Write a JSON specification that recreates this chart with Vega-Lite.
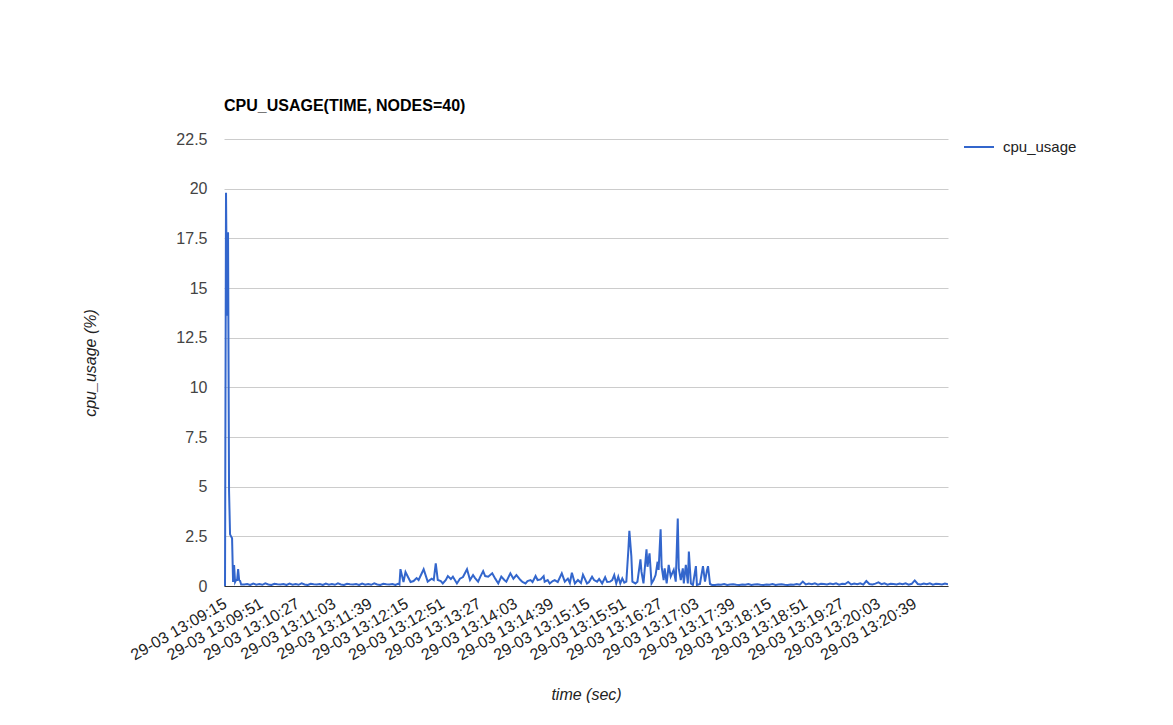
{
"$schema": "https://vega.github.io/schema/vega-lite/v6.json",
"width": 724,
"height": 447,
"autosize": {"type": "none"},
"padding": {"left": 224, "top": 139, "right": 225, "bottom": 139},
"background": "white",
"config": {"view": {"stroke": null}, "font": "Liberation Sans"},
"title": {"text": "CPU_USAGE(TIME, NODES=40)", "anchor": "start", "frame": "group", "font": "Liberation Sans", "fontSize": 16, "fontWeight": "bold", "color": "#000000", "baseline": "alphabetic", "offset": 4},
"data": {
"format": {"parse": {"time": "date:'%d-%m %H:%M:%S'"}},
"values": [
{"time":"29-03 13:09:15","cpu_usage":0},
{"time":"29-03 13:09:16","cpu_usage":19.8},
{"time":"29-03 13:09:17","cpu_usage":13.6},
{"time":"29-03 13:09:18","cpu_usage":17.8},
{"time":"29-03 13:09:19","cpu_usage":4.8},
{"time":"29-03 13:09:20","cpu_usage":2.6},
{"time":"29-03 13:09:21","cpu_usage":2.5},
{"time":"29-03 13:09:22","cpu_usage":2.4},
{"time":"29-03 13:09:23","cpu_usage":0.2},
{"time":"29-03 13:09:24","cpu_usage":1.05},
{"time":"29-03 13:09:25","cpu_usage":0.2},
{"time":"29-03 13:09:26","cpu_usage":0.3},
{"time":"29-03 13:09:27","cpu_usage":0.3},
{"time":"29-03 13:09:28","cpu_usage":0.85},
{"time":"29-03 13:09:29","cpu_usage":0.3},
{"time":"29-03 13:09:30","cpu_usage":0.25},
{"time":"29-03 13:09:31","cpu_usage":0.08},
{"time":"29-03 13:09:34","cpu_usage":0.08},
{"time":"29-03 13:09:37","cpu_usage":0.1},
{"time":"29-03 13:09:40","cpu_usage":0.05},
{"time":"29-03 13:09:43","cpu_usage":0.12},
{"time":"29-03 13:09:46","cpu_usage":0.07},
{"time":"29-03 13:09:49","cpu_usage":0.1},
{"time":"29-03 13:09:52","cpu_usage":0.06},
{"time":"29-03 13:09:55","cpu_usage":0.13},
{"time":"29-03 13:09:58","cpu_usage":0.08},
{"time":"29-03 13:10:01","cpu_usage":0.05},
{"time":"29-03 13:10:04","cpu_usage":0.11},
{"time":"29-03 13:10:07","cpu_usage":0.09},
{"time":"29-03 13:10:10","cpu_usage":0.08},
{"time":"29-03 13:10:13","cpu_usage":0.1},
{"time":"29-03 13:10:16","cpu_usage":0.05},
{"time":"29-03 13:10:19","cpu_usage":0.12},
{"time":"29-03 13:10:22","cpu_usage":0.07},
{"time":"29-03 13:10:25","cpu_usage":0.1},
{"time":"29-03 13:10:28","cpu_usage":0.06},
{"time":"29-03 13:10:31","cpu_usage":0.13},
{"time":"29-03 13:10:34","cpu_usage":0.08},
{"time":"29-03 13:10:37","cpu_usage":0.05},
{"time":"29-03 13:10:40","cpu_usage":0.11},
{"time":"29-03 13:10:43","cpu_usage":0.09},
{"time":"29-03 13:10:46","cpu_usage":0.08},
{"time":"29-03 13:10:49","cpu_usage":0.1},
{"time":"29-03 13:10:52","cpu_usage":0.05},
{"time":"29-03 13:10:55","cpu_usage":0.12},
{"time":"29-03 13:10:58","cpu_usage":0.07},
{"time":"29-03 13:11:01","cpu_usage":0.1},
{"time":"29-03 13:11:04","cpu_usage":0.06},
{"time":"29-03 13:11:07","cpu_usage":0.13},
{"time":"29-03 13:11:10","cpu_usage":0.08},
{"time":"29-03 13:11:13","cpu_usage":0.05},
{"time":"29-03 13:11:16","cpu_usage":0.11},
{"time":"29-03 13:11:19","cpu_usage":0.09},
{"time":"29-03 13:11:22","cpu_usage":0.08},
{"time":"29-03 13:11:25","cpu_usage":0.1},
{"time":"29-03 13:11:28","cpu_usage":0.05},
{"time":"29-03 13:11:31","cpu_usage":0.12},
{"time":"29-03 13:11:34","cpu_usage":0.07},
{"time":"29-03 13:11:37","cpu_usage":0.1},
{"time":"29-03 13:11:40","cpu_usage":0.06},
{"time":"29-03 13:11:43","cpu_usage":0.13},
{"time":"29-03 13:11:46","cpu_usage":0.08},
{"time":"29-03 13:11:49","cpu_usage":0.05},
{"time":"29-03 13:11:52","cpu_usage":0.11},
{"time":"29-03 13:11:55","cpu_usage":0.09},
{"time":"29-03 13:11:58","cpu_usage":0.08},
{"time":"29-03 13:12:01","cpu_usage":0.1},
{"time":"29-03 13:12:04","cpu_usage":0.05},
{"time":"29-03 13:12:07","cpu_usage":0.12},
{"time":"29-03 13:12:08","cpu_usage":0.08},
{"time":"29-03 13:12:09","cpu_usage":0.85},
{"time":"29-03 13:12:12","cpu_usage":0.2},
{"time":"29-03 13:12:14","cpu_usage":0.7},
{"time":"29-03 13:12:17","cpu_usage":0.4},
{"time":"29-03 13:12:19","cpu_usage":0.2},
{"time":"29-03 13:12:22","cpu_usage":0.25},
{"time":"29-03 13:12:25","cpu_usage":0.4},
{"time":"29-03 13:12:27","cpu_usage":0.3},
{"time":"29-03 13:12:32","cpu_usage":0.84},
{"time":"29-03 13:12:36","cpu_usage":0.22},
{"time":"29-03 13:12:40","cpu_usage":0.37},
{"time":"29-03 13:12:42","cpu_usage":0.3},
{"time":"29-03 13:12:44","cpu_usage":1.14},
{"time":"29-03 13:12:46","cpu_usage":0.3},
{"time":"29-03 13:12:49","cpu_usage":0.25},
{"time":"29-03 13:12:51","cpu_usage":0.13},
{"time":"29-03 13:12:54","cpu_usage":0.3},
{"time":"29-03 13:12:56","cpu_usage":0.5},
{"time":"29-03 13:12:59","cpu_usage":0.35},
{"time":"29-03 13:13:01","cpu_usage":0.47},
{"time":"29-03 13:13:05","cpu_usage":0.13},
{"time":"29-03 13:13:08","cpu_usage":0.37},
{"time":"29-03 13:13:11","cpu_usage":0.45},
{"time":"29-03 13:13:15","cpu_usage":0.84},
{"time":"29-03 13:13:18","cpu_usage":0.3},
{"time":"29-03 13:13:21","cpu_usage":0.55},
{"time":"29-03 13:13:23","cpu_usage":0.4},
{"time":"29-03 13:13:26","cpu_usage":0.22},
{"time":"29-03 13:13:28","cpu_usage":0.45},
{"time":"29-03 13:13:31","cpu_usage":0.75},
{"time":"29-03 13:13:33","cpu_usage":0.5},
{"time":"29-03 13:13:36","cpu_usage":0.47},
{"time":"29-03 13:13:40","cpu_usage":0.64},
{"time":"29-03 13:13:43","cpu_usage":0.37},
{"time":"29-03 13:13:46","cpu_usage":0.13},
{"time":"29-03 13:13:49","cpu_usage":0.47},
{"time":"29-03 13:13:52","cpu_usage":0.3},
{"time":"29-03 13:13:54","cpu_usage":0.22},
{"time":"29-03 13:13:58","cpu_usage":0.64},
{"time":"29-03 13:14:01","cpu_usage":0.37},
{"time":"29-03 13:14:04","cpu_usage":0.55},
{"time":"29-03 13:14:08","cpu_usage":0.3},
{"time":"29-03 13:14:10","cpu_usage":0.2},
{"time":"29-03 13:14:13","cpu_usage":0.13},
{"time":"29-03 13:14:15","cpu_usage":0.25},
{"time":"29-03 13:14:18","cpu_usage":0.3},
{"time":"29-03 13:14:20","cpu_usage":0.2},
{"time":"29-03 13:14:23","cpu_usage":0.5},
{"time":"29-03 13:14:25","cpu_usage":0.3},
{"time":"29-03 13:14:28","cpu_usage":0.33},
{"time":"29-03 13:14:31","cpu_usage":0.5},
{"time":"29-03 13:14:32","cpu_usage":0.22},
{"time":"29-03 13:14:35","cpu_usage":0.3},
{"time":"29-03 13:14:37","cpu_usage":0.13},
{"time":"29-03 13:14:40","cpu_usage":0.25},
{"time":"29-03 13:14:42","cpu_usage":0.3},
{"time":"29-03 13:14:45","cpu_usage":0.2},
{"time":"29-03 13:14:49","cpu_usage":0.64},
{"time":"29-03 13:14:52","cpu_usage":0.22},
{"time":"29-03 13:14:55","cpu_usage":0.37},
{"time":"29-03 13:14:57","cpu_usage":0.15},
{"time":"29-03 13:14:59","cpu_usage":0.67},
{"time":"29-03 13:15:02","cpu_usage":0.13},
{"time":"29-03 13:15:05","cpu_usage":0.3},
{"time":"29-03 13:15:08","cpu_usage":0.15},
{"time":"29-03 13:15:10","cpu_usage":0.57},
{"time":"29-03 13:15:14","cpu_usage":0.13},
{"time":"29-03 13:15:16","cpu_usage":0.2},
{"time":"29-03 13:15:19","cpu_usage":0.47},
{"time":"29-03 13:15:21","cpu_usage":0.3},
{"time":"29-03 13:15:24","cpu_usage":0.22},
{"time":"29-03 13:15:26","cpu_usage":0.35},
{"time":"29-03 13:15:29","cpu_usage":0.13},
{"time":"29-03 13:15:32","cpu_usage":0.44},
{"time":"29-03 13:15:34","cpu_usage":0.2},
{"time":"29-03 13:15:37","cpu_usage":0.22},
{"time":"29-03 13:15:39","cpu_usage":0.3},
{"time":"29-03 13:15:41","cpu_usage":0.55},
{"time":"29-03 13:15:43","cpu_usage":0.13},
{"time":"29-03 13:15:45","cpu_usage":0.47},
{"time":"29-03 13:15:47","cpu_usage":0.13},
{"time":"29-03 13:15:49","cpu_usage":0.38},
{"time":"29-03 13:15:51","cpu_usage":0.17},
{"time":"29-03 13:15:53","cpu_usage":0.22},
{"time":"29-03 13:15:55","cpu_usage":1.81},
{"time":"29-03 13:15:56","cpu_usage":2.78},
{"time":"29-03 13:15:58","cpu_usage":1.48},
{"time":"29-03 13:15:59","cpu_usage":0.22},
{"time":"29-03 13:16:02","cpu_usage":0.13},
{"time":"29-03 13:16:04","cpu_usage":0.22},
{"time":"29-03 13:16:07","cpu_usage":1.34},
{"time":"29-03 13:16:08","cpu_usage":0.72},
{"time":"29-03 13:16:10","cpu_usage":0.13},
{"time":"29-03 13:16:13","cpu_usage":1.85},
{"time":"29-03 13:16:14","cpu_usage":0.97},
{"time":"29-03 13:16:16","cpu_usage":1.64},
{"time":"29-03 13:16:18","cpu_usage":0.13},
{"time":"29-03 13:16:20","cpu_usage":0.3},
{"time":"29-03 13:16:22","cpu_usage":0.55},
{"time":"29-03 13:16:24","cpu_usage":1.22},
{"time":"29-03 13:16:25","cpu_usage":0.81},
{"time":"29-03 13:16:27","cpu_usage":2.85},
{"time":"29-03 13:16:28","cpu_usage":0.97},
{"time":"29-03 13:16:30","cpu_usage":0.3},
{"time":"29-03 13:16:31","cpu_usage":0.89},
{"time":"29-03 13:16:33","cpu_usage":0.13},
{"time":"29-03 13:16:35","cpu_usage":1.06},
{"time":"29-03 13:16:37","cpu_usage":0.47},
{"time":"29-03 13:16:40","cpu_usage":0.81},
{"time":"29-03 13:16:42","cpu_usage":0.22},
{"time":"29-03 13:16:44","cpu_usage":3.4},
{"time":"29-03 13:16:45","cpu_usage":0.89},
{"time":"29-03 13:16:47","cpu_usage":0.3},
{"time":"29-03 13:16:49","cpu_usage":0.89},
{"time":"29-03 13:16:50","cpu_usage":0.13},
{"time":"29-03 13:16:52","cpu_usage":1.06},
{"time":"29-03 13:16:54","cpu_usage":0.13},
{"time":"29-03 13:16:55","cpu_usage":1.73},
{"time":"29-03 13:16:57","cpu_usage":0.13},
{"time":"29-03 13:16:59","cpu_usage":0.05},
{"time":"29-03 13:17:02","cpu_usage":1.0},
{"time":"29-03 13:17:03","cpu_usage":0.05},
{"time":"29-03 13:17:06","cpu_usage":0.1},
{"time":"29-03 13:17:09","cpu_usage":1.0},
{"time":"29-03 13:17:11","cpu_usage":0.22},
{"time":"29-03 13:17:13","cpu_usage":0.8},
{"time":"29-03 13:17:14","cpu_usage":1.0},
{"time":"29-03 13:17:16","cpu_usage":0.1},
{"time":"29-03 13:17:18","cpu_usage":0.05},
{"time":"29-03 13:17:21","cpu_usage":0.05},
{"time":"29-03 13:17:24","cpu_usage":0.08},
{"time":"29-03 13:17:27","cpu_usage":0.06},
{"time":"29-03 13:17:30","cpu_usage":0.1},
{"time":"29-03 13:17:33","cpu_usage":0.05},
{"time":"29-03 13:17:36","cpu_usage":0.07},
{"time":"29-03 13:17:39","cpu_usage":0.09},
{"time":"29-03 13:17:42","cpu_usage":0.06},
{"time":"29-03 13:17:45","cpu_usage":0.05},
{"time":"29-03 13:17:48","cpu_usage":0.08},
{"time":"29-03 13:17:51","cpu_usage":0.06},
{"time":"29-03 13:17:54","cpu_usage":0.1},
{"time":"29-03 13:17:57","cpu_usage":0.05},
{"time":"29-03 13:18:00","cpu_usage":0.07},
{"time":"29-03 13:18:03","cpu_usage":0.09},
{"time":"29-03 13:18:06","cpu_usage":0.06},
{"time":"29-03 13:18:09","cpu_usage":0.05},
{"time":"29-03 13:18:12","cpu_usage":0.08},
{"time":"29-03 13:18:15","cpu_usage":0.06},
{"time":"29-03 13:18:18","cpu_usage":0.1},
{"time":"29-03 13:18:21","cpu_usage":0.05},
{"time":"29-03 13:18:24","cpu_usage":0.07},
{"time":"29-03 13:18:27","cpu_usage":0.09},
{"time":"29-03 13:18:30","cpu_usage":0.06},
{"time":"29-03 13:18:33","cpu_usage":0.05},
{"time":"29-03 13:18:36","cpu_usage":0.08},
{"time":"29-03 13:18:39","cpu_usage":0.06},
{"time":"29-03 13:18:42","cpu_usage":0.1},
{"time":"29-03 13:18:45","cpu_usage":0.07},
{"time":"29-03 13:18:48","cpu_usage":0.22},
{"time":"29-03 13:18:51","cpu_usage":0.08},
{"time":"29-03 13:18:54","cpu_usage":0.12},
{"time":"29-03 13:18:57","cpu_usage":0.09},
{"time":"29-03 13:19:00","cpu_usage":0.14},
{"time":"29-03 13:19:03","cpu_usage":0.07},
{"time":"29-03 13:19:06","cpu_usage":0.11},
{"time":"29-03 13:19:09","cpu_usage":0.1},
{"time":"29-03 13:19:12","cpu_usage":0.08},
{"time":"29-03 13:19:15","cpu_usage":0.12},
{"time":"29-03 13:19:18","cpu_usage":0.09},
{"time":"29-03 13:19:21","cpu_usage":0.14},
{"time":"29-03 13:19:24","cpu_usage":0.07},
{"time":"29-03 13:19:27","cpu_usage":0.11},
{"time":"29-03 13:19:30","cpu_usage":0.1},
{"time":"29-03 13:19:33","cpu_usage":0.2},
{"time":"29-03 13:19:36","cpu_usage":0.08},
{"time":"29-03 13:19:39","cpu_usage":0.12},
{"time":"29-03 13:19:42","cpu_usage":0.09},
{"time":"29-03 13:19:45","cpu_usage":0.14},
{"time":"29-03 13:19:48","cpu_usage":0.07},
{"time":"29-03 13:19:51","cpu_usage":0.25},
{"time":"29-03 13:19:54","cpu_usage":0.1},
{"time":"29-03 13:19:57","cpu_usage":0.08},
{"time":"29-03 13:20:00","cpu_usage":0.12},
{"time":"29-03 13:20:03","cpu_usage":0.18},
{"time":"29-03 13:20:06","cpu_usage":0.09},
{"time":"29-03 13:20:09","cpu_usage":0.14},
{"time":"29-03 13:20:12","cpu_usage":0.07},
{"time":"29-03 13:20:15","cpu_usage":0.11},
{"time":"29-03 13:20:18","cpu_usage":0.1},
{"time":"29-03 13:20:21","cpu_usage":0.08},
{"time":"29-03 13:20:24","cpu_usage":0.12},
{"time":"29-03 13:20:27","cpu_usage":0.09},
{"time":"29-03 13:20:30","cpu_usage":0.14},
{"time":"29-03 13:20:33","cpu_usage":0.07},
{"time":"29-03 13:20:36","cpu_usage":0.11},
{"time":"29-03 13:20:39","cpu_usage":0.28},
{"time":"29-03 13:20:42","cpu_usage":0.1},
{"time":"29-03 13:20:45","cpu_usage":0.08},
{"time":"29-03 13:20:48","cpu_usage":0.12},
{"time":"29-03 13:20:51","cpu_usage":0.09},
{"time":"29-03 13:20:54","cpu_usage":0.14},
{"time":"29-03 13:20:57","cpu_usage":0.07},
{"time":"29-03 13:21:00","cpu_usage":0.11},
{"time":"29-03 13:21:03","cpu_usage":0.1},
{"time":"29-03 13:21:06","cpu_usage":0.08},
{"time":"29-03 13:21:09","cpu_usage":0.12},
{"time":"29-03 13:21:12","cpu_usage":0.09}
]
},
"mark": {"type": "line", "strokeWidth": 2, "interpolate": "linear", "clip": true},
"encoding": {
"x": {
"field": "time", "type": "temporal",
"scale": {"domain": [{"year":1900,"month":3,"date":29,"hours":13,"minutes":9,"seconds":14}, {"year":1900,"month":3,"date":29,"hours":13,"minutes":21,"seconds":12}], "nice": false},
"axis": {
"title": "time (sec)", "titleFont": "Liberation Sans", "titleFontSize": 16, "titleFontStyle": "italic", "titleFontWeight": "normal", "titleColor": "#222222",
"titleX": 362, "titleY": 108, "titleBaseline": "middle", "titleAlign": "center",
"format": "%d-%m %H:%M:%S", "formatType": "time",
"values": [
{"year":1900,"month":3,"date":29,"hours":13,"minutes":9,"seconds":15},
{"year":1900,"month":3,"date":29,"hours":13,"minutes":9,"seconds":51},
{"year":1900,"month":3,"date":29,"hours":13,"minutes":10,"seconds":27},
{"year":1900,"month":3,"date":29,"hours":13,"minutes":11,"seconds":3},
{"year":1900,"month":3,"date":29,"hours":13,"minutes":11,"seconds":39},
{"year":1900,"month":3,"date":29,"hours":13,"minutes":12,"seconds":15},
{"year":1900,"month":3,"date":29,"hours":13,"minutes":12,"seconds":51},
{"year":1900,"month":3,"date":29,"hours":13,"minutes":13,"seconds":27},
{"year":1900,"month":3,"date":29,"hours":13,"minutes":14,"seconds":3},
{"year":1900,"month":3,"date":29,"hours":13,"minutes":14,"seconds":39},
{"year":1900,"month":3,"date":29,"hours":13,"minutes":15,"seconds":15},
{"year":1900,"month":3,"date":29,"hours":13,"minutes":15,"seconds":51},
{"year":1900,"month":3,"date":29,"hours":13,"minutes":16,"seconds":27},
{"year":1900,"month":3,"date":29,"hours":13,"minutes":17,"seconds":3},
{"year":1900,"month":3,"date":29,"hours":13,"minutes":17,"seconds":39},
{"year":1900,"month":3,"date":29,"hours":13,"minutes":18,"seconds":15},
{"year":1900,"month":3,"date":29,"hours":13,"minutes":18,"seconds":51},
{"year":1900,"month":3,"date":29,"hours":13,"minutes":19,"seconds":27},
{"year":1900,"month":3,"date":29,"hours":13,"minutes":20,"seconds":3},
{"year":1900,"month":3,"date":29,"hours":13,"minutes":20,"seconds":39}
],
"labelAngle": -30, "labelAlign": "right", "labelBaseline": "middle", "labelPadding": 16,
"labelFont": "Liberation Sans", "labelFontSize": 16, "labelColor": "#222222",
"labelOverlap": false, "labelFlush": false, "labelBound": false,
"ticks": false, "grid": false, "domain": true, "domainColor": "#333333", "domainWidth": 1
}
},
"y": {
"field": "cpu_usage", "type": "quantitative",
"scale": {"domain": [0, 22.5], "nice": false, "zero": true},
"axis": {
"title": "cpu_usage (%)", "titleFont": "Liberation Sans", "titleFontSize": 16, "titleFontStyle": "italic", "titleFontWeight": "normal", "titleColor": "#222222",
"titleX": -134, "titleY": 223.5, "titleAngle": -90, "titleAlign": "center", "titleBaseline": "middle",
"values": [0, 2.5, 5, 7.5, 10, 12.5, 15, 17.5, 20, 22.5], "format": ".1~f",
"labelFont": "Liberation Sans", "labelFontSize": 16, "labelColor": "#444444", "labelPadding": 17,
"ticks": false, "domain": false, "grid": true, "gridColor": "#cccccc", "gridWidth": 1
}
},
"color": {
"datum": "cpu_usage",
"scale": {"range": ["#3366cc"]},
"legend": {
"title": null, "orient": "none", "legendX": 739, "legendY": -8, "padding": 0,
"symbolType": "stroke", "symbolSize": 900, "symbolStrokeWidth": 2,
"labelFont": "Liberation Sans", "labelFontSize": 15, "labelColor": "#222222", "labelOffset": 8
}
}
}
}
